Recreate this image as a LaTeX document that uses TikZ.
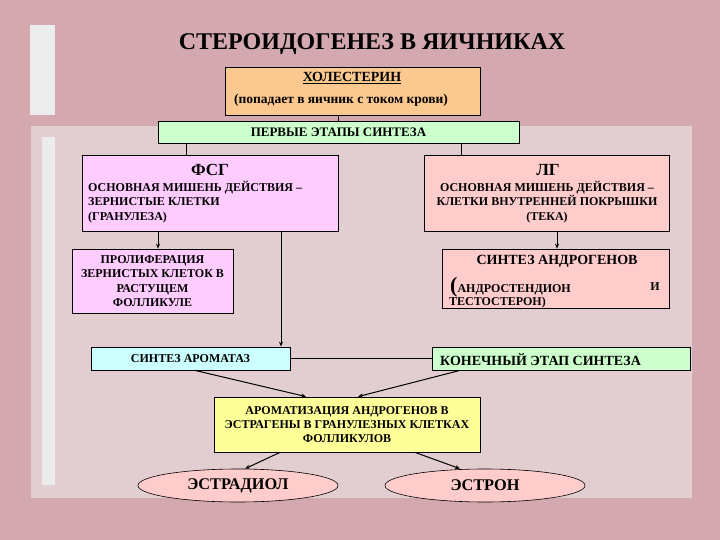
\documentclass[tikz,border=0pt]{standalone}
\usepackage{fontspec}
\setmainfont{Liberation Serif}
\usetikzlibrary{shapes.geometric,arrows.meta}
\definecolor{bgpink}{HTML}{D3A9AF}
\definecolor{panel}{HTML}{E2CDD0}
\definecolor{orangeb}{HTML}{FBC890}
\definecolor{greenb}{HTML}{CCFFCC}
\definecolor{violetb}{HTML}{FFCCFF}
\definecolor{pinkb}{HTML}{FFCCCC}
\definecolor{cyanb}{HTML}{CCFFFF}
\definecolor{yellowb}{HTML}{FFFF99}
\begin{document}
\begin{tikzpicture}[x=1pt,y=-1pt,
  box/.style={draw=black,line width=0.8pt,inner sep=0pt,font=\bfseries\fontsize{12}{14.3}\selectfont,align=center},
  txt/.style={font=\bfseries\fontsize{12}{14.3}\selectfont,inner sep=0pt},
  conn/.style={line width=1pt},
  arr/.style={line width=1pt,-{Stealth[length=5pt,width=4pt]}}]
\fill[bgpink] (0,0) rectangle (720,540);
\useasboundingbox (0,0) rectangle (720,540);
\fill[panel] (31,126) rectangle (692,498);
\fill[white!85!gray] (30,25) rectangle (55,115);
\fill[white!85!gray] (42,137) rectangle (55,485);
\node[font=\bfseries\fontsize{24}{26}\selectfont] (title) at (372,44) {СТЕРОИДОГЕНЕЗ В ЯИЧНИКАХ};
\node[box,fill=orangeb,minimum width=255pt,minimum height=48pt] (chol) at (352.5,91) {};
\node[font=\bfseries\fontsize{14}{16}\selectfont] (cholt) at (352,78) {\underline{ХОЛЕСТЕРИН}};
\node[font=\bfseries\fontsize{13.5}{15}\selectfont] (cholt2) at (341,100) {(попадает в яичник с током крови)};
\node[box,fill=greenb,minimum width=361pt,minimum height=22pt,font=\bfseries\fontsize{13}{15}\selectfont] (first) at (338.5,132) {ПЕРВЫЕ ЭТАПЫ СИНТЕЗА};
\node[box,fill=violetb,minimum width=256pt,minimum height=76pt] (fsg) at (210,193) {};
\node[font=\bfseries\fontsize{17}{19}\selectfont] (fsgt) at (210,170) {ФСГ};
\node[txt,align=left,anchor=north west] (fsgtext) at (88,181) {ОСНОВНАЯ МИШЕНЬ ДЕЙСТВИЯ –\\ЗЕРНИСТЫЕ КЛЕТКИ\\(ГРАНУЛЕЗА)};
\node[box,fill=pinkb,minimum width=245pt,minimum height=76pt] (lg) at (546.5,193) {};
\node[font=\bfseries\fontsize{17}{19}\selectfont] (lgt) at (548,170) {ЛГ};
\node[txt,align=center,anchor=north] (lgtext) at (547,181) {ОСНОВНАЯ МИШЕНЬ ДЕЙСТВИЯ –\\КЛЕТКИ ВНУТРЕННЕЙ ПОКРЫШКИ\\(ТЕКА)};
\node[box,fill=violetb,minimum width=161pt,minimum height=64pt] (prol) at (152.5,281) {ПРОЛИФЕРАЦИЯ\\ЗЕРНИСТЫХ КЛЕТОК В\\РАСТУЩЕМ\\ФОЛЛИКУЛЕ};
\node[box,fill=pinkb,minimum width=227pt,minimum height=59pt] (andr) at (555.5,278.5) {};
\node[font=\bfseries\fontsize{14}{16}\selectfont] (andrt) at (557,261) {СИНТЕЗ АНДРОГЕНОВ};
\node[txt,anchor=west] (andrt2) at (450,287) {{\fontsize{22}{22}\selectfont(}АНДРОСТЕНДИОН};
\node[txt] (andri) at (655,287) {И};
\node[txt,anchor=west] (andrt3) at (449,303) {ТЕСТОСТЕРОН)};
\node[box,fill=cyanb,minimum width=199pt,minimum height=23pt] (arom) at (190.5,358.5) {СИНТЕЗ АРОМАТАЗ};
\node[box,fill=greenb,minimum width=258pt,minimum height=23pt] (final) at (561,358.5) {};
\node[font=\bfseries\fontsize{14}{16}\selectfont,anchor=west,inner sep=0pt] (finalt) at (440,360) {КОНЕЧНЫЙ ЭТАП СИНТЕЗА};
\node[box,fill=yellowb,minimum width=266pt,minimum height=55pt,font=\bfseries\fontsize{12}{14}\selectfont] (yel) at (347,424.5) {АРОМАТИЗАЦИЯ АНДРОГЕНОВ В\\ЭСТРАГЕНЫ В ГРАНУЛЕЗНЫХ КЛЕТКАХ\\ФОЛЛИКУЛОВ};
\node[ellipse,draw=black,line width=0.6pt,fill=pinkb,minimum width=200pt,minimum height=33pt,inner sep=0pt,font=\bfseries\fontsize{16.3}{18}\selectfont] (estr) at (238,485.5) {ЭСТРАДИОЛ};
\node[ellipse,draw=black,line width=0.6pt,fill=pinkb,minimum width=200pt,minimum height=33pt,inner sep=0pt,font=\bfseries\fontsize{16.3}{18}\selectfont] (estron) at (485,485.5) {ЭСТРОН};
% connectors
\draw[conn] (chol.south) ++(-14.5,0) coordinate (c1) -- (c1 |- first.north);
\draw[conn] (first.south) ++(-152.5,0) coordinate (c2) -- (c2 |- fsg.north);
\draw[conn] (first.south) ++(122.5,0) coordinate (c3) -- (c3 |- lg.north);
\draw[arr] (fsg.south) ++(-52,0) coordinate (c4) -- (c4 |- prol.north);
\draw[arr] (fsg.south) ++(71,0) coordinate (c5) -- (c5 |- arom.north);
\draw[arr] (lg.south) ++(10.5,0) coordinate (c6) -- (c6 |- andr.north);
\draw[conn] (arom.east) -- (final.west);
\draw[arr] (arom.south) ++(4.5,0) coordinate (c7) -- ([xshift=-41pt]yel.north);
\draw[arr] (final.south) ++(-101,0) coordinate (c8) -- ([xshift=11pt]yel.north);
\draw[arr] (yel.south) ++(-67,0) coordinate (c9) -- ([xshift=7pt]estr.north);
\draw[arr] (yel.south) ++(68,0) coordinate (c10) -- ([xshift=-25pt]estron.north);
\end{tikzpicture}
\end{document}
